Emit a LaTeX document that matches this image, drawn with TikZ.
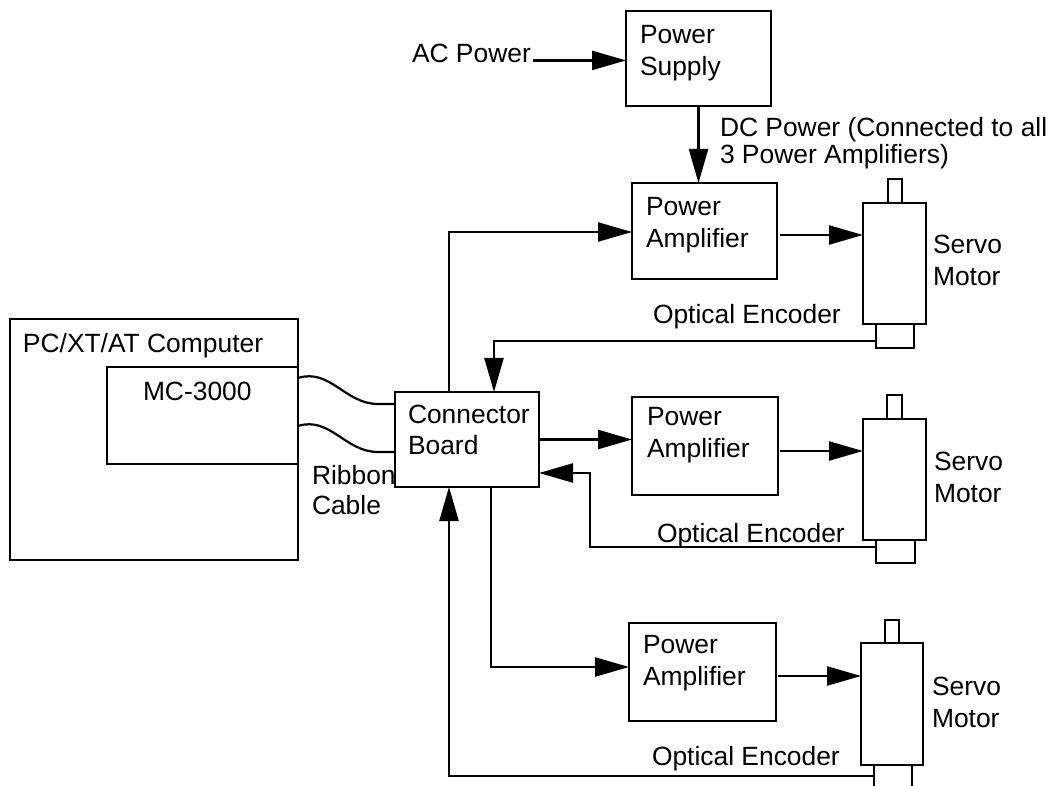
\documentclass[tikz,border=0pt]{standalone}
\usepackage{fontspec}
\setmainfont{Liberation Sans}
\usetikzlibrary{arrows.meta}
\begin{document}
\begin{tikzpicture}[x=1pt,y=-1pt,
  box/.style={draw,line width=2pt,inner sep=0pt,outer sep=0pt,anchor=north west},
  txt/.style={inner sep=0pt,outer sep=0pt,anchor=north west,align=left,font=\fontsize{26.4}{32}\selectfont},
  wire/.style={line width=2.2pt},
  arr/.style={line width=2.4pt,-{Triangle[length=34pt,width=19pt]}}]
\clip (0,0) rectangle (1058,786);
\fill[white] (0,0) rectangle (1058,786);
% boxes
\node[box,minimum width=145pt,minimum height=95pt] (ps) at (626,11) {};
\node[box,minimum width=145pt,minimum height=96pt] (pa1) at (632,183) {};
\node[box,minimum width=146pt,minimum height=98pt] (pa2) at (632,397) {};
\node[box,minimum width=147pt,minimum height=98pt] (pa3) at (629,623) {};
\node[box,minimum width=144pt,minimum height=95pt] (cb) at (395,392) {};
\node[box,minimum width=288pt,minimum height=241pt] (pc) at (10,319) {};
\node[box,minimum width=191pt,minimum height=97pt] (mc) at (107,367) {};
% motors
\node[box,minimum width=63pt,minimum height=121pt] (m1) at (863,203) {};
\node[box,minimum width=14pt,minimum height=24pt] (s1) at (888,179) {};
\node[box,minimum width=38pt,minimum height=24pt] (e1) at (876,324) {};
\node[box,minimum width=63pt,minimum height=121pt] (m2) at (863,419) {};
\node[box,minimum width=15pt,minimum height=24pt] (s2) at (887,395) {};
\node[box,minimum width=39pt,minimum height=23pt] (e2) at (876,540) {};
\node[box,minimum width=62pt,minimum height=122pt] (m3) at (861,643) {};
\node[box,minimum width=14pt,minimum height=23pt] (s3) at (885,620) {};
\node[box,minimum width=38pt,minimum height=40pt] (e3) at (874,765) {};
% texts
\node[txt] (tac) at (412,44) {AC Power};
\node[txt] (tps) at (640,25) {Power\\Supply};
\node[txt,font=\fontsize{26.4}{27}\selectfont] (tdc) at (720,117) {DC Power (Connected to all\\3 Power Amplifiers)};
\node[txt] (tpa1) at (646,197) {Power\\Amplifier};
\node[txt] (toe1) at (653,304) {Optical Encoder};
\node[txt] (tsm1) at (933,235) {Servo\\Motor};
\node[txt] (tpc) at (23,333) {PC/XT/AT Computer};
\node[txt] (tmc) at (143,382) {MC-3000};
\node[txt,font=\fontsize{26.4}{31}\selectfont] (tcb) at (408,405) {Connector\\Board};
\node[txt,font=\fontsize{26.4}{30}\selectfont] (trc) at (312,465) {Ribbon\\Cable};
\node[txt] (tpa2) at (647,407) {Power\\Amplifier};
\node[txt] (toe2) at (657,523) {Optical Encoder};
\node[txt] (tsm2) at (934,452) {Servo\\Motor};
\node[txt] (tpa3) at (643,635) {Power\\Amplifier};
\node[txt] (toe3) at (652,746) {Optical Encoder};
\node[txt] (tsm3) at (932,677) {Servo\\Motor};
% bend coordinates
\coordinate (k1) at (449,232);
\coordinate (k5) at (494,341);
\coordinate (k2) at (590,547);
\coordinate (k2b) at (590,473);
\coordinate (k3) at (491,667);
\coordinate (k4) at (449,776);
\coordinate (r1) at (780,235);
\coordinate (r2) at (780,451);
\coordinate (r3) at (778,676);
% connectors
\draw[arr] ([xshift=2pt,yshift=2pt]tac.base east) -- ([yshift=2pt]tac.base east -| ps.west);
\draw[arr] (ps.south) -- (ps.south |- pa1.north);
\draw[arr] (k1 |- cb.north) -- (k1) -- (k1 -| pa1.west);
\draw[arr] (r1) -- (r1 -| m1.west);
\draw[arr] (k5 -| e1.west) -- (k5) -- (k5 |- cb.north);
\draw[arr] (cb.east) -- (cb.east -| pa2.west);
\draw[arr] (r2) -- (r2 -| m2.west);
\draw[arr] (k2 -| e2.west) -- (k2) -- (k2b) -- (k2b -| cb.east);
\draw[arr] (k3 |- cb.south) -- (k3) -- (k3 -| pa3.west);
\draw[arr] (r3) -- (r3 -| m3.west);
\draw[arr] (k4 -| e3.west) -- (k4) -- (k4 |- cb.south);
% ribbon cables
\draw[wire] ([yshift=37.5pt]mc.east) .. controls (330,368) and (345,404) .. (378,404) -- ([yshift=35.5pt]cb.west);
\draw[wire] ([yshift=-10.5pt]mc.east) .. controls (330,416) and (345,452) .. (378,452) -- ([yshift=-12.5pt]cb.west);
\end{tikzpicture}
\end{document}
